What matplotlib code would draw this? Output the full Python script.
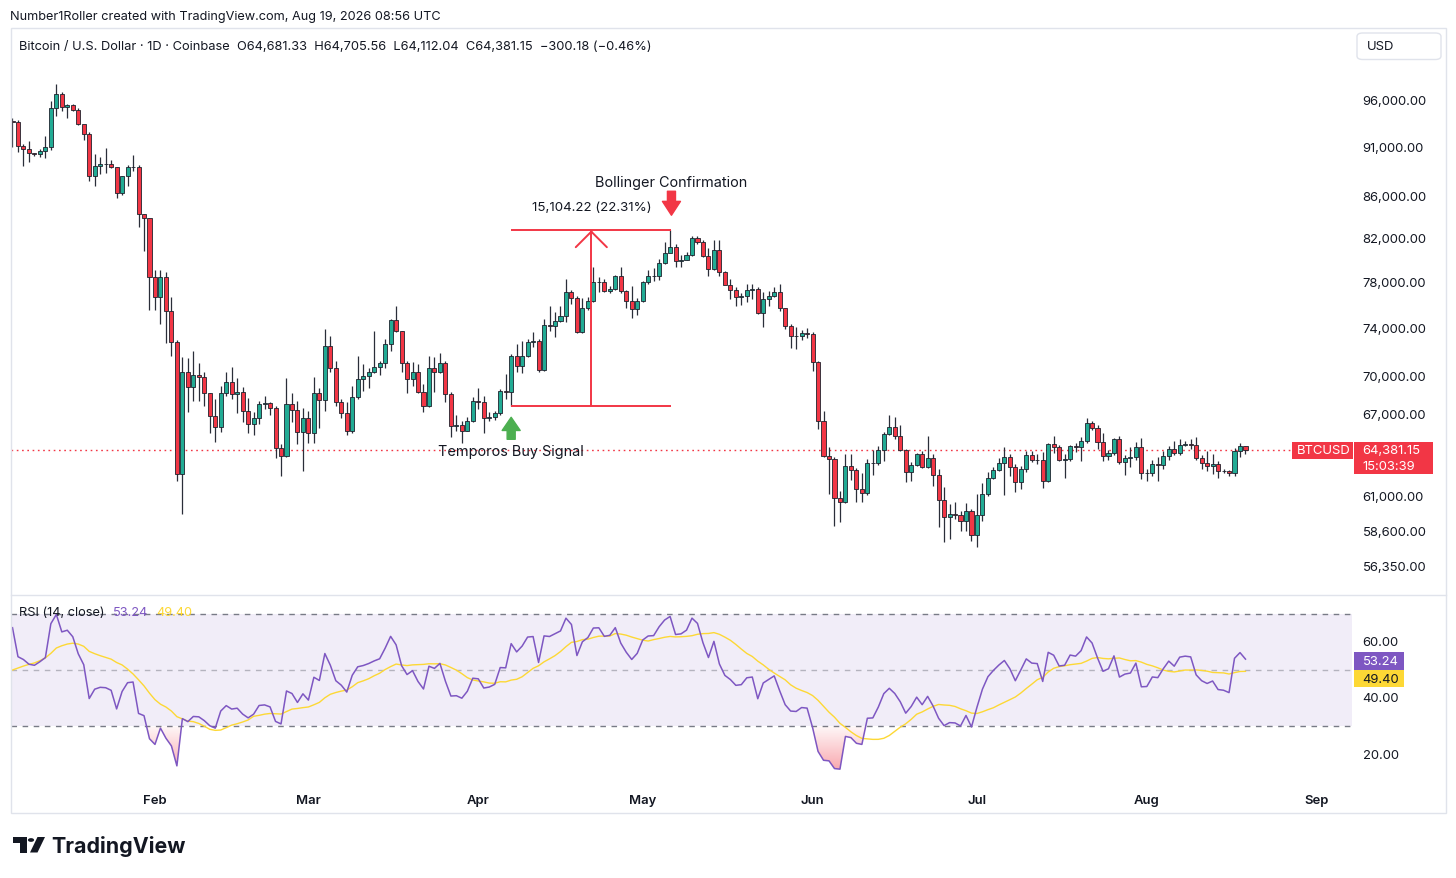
import datetime as dt
import numpy as np
import matplotlib
matplotlib.use("Agg")
import matplotlib.pyplot as plt
import matplotlib.dates as mdates
import matplotlib.transforms as mtransforms
from matplotlib.patches import Rectangle, FancyBboxPatch, Polygon, Circle
from matplotlib.path import Path
from matplotlib.colors import to_rgb

plt.rcParams['font.family'] = ['Inter', 'DejaVu Sans']

# ---- data (BTCUSD daily, Coinbase) ----
first_day = dt.date(2026, 1, 6)
first_open = 93800
closes = [
    93700, 91150, 90870, 90420, 90320, 90660, 91050, 95200, 96770, 95310,
    95560, 95020, 93510, 92440, 88140, 89150, 89350, 89300, 88980, 86410,
    88070, 88980, 89050, 84360, 83940, 78520, 76740, 78460, 75530, 72900,
    62660, 70380, 69180, 70130, 70000, 68710, 66930, 66090, 68710, 69580,
    68660, 68790, 67310, 66340, 66800, 67880, 67950, 67570, 64520, 63930,
    67880, 67410, 65720, 66800, 65660, 68710, 68190, 72560, 70730, 68010,
    67160, 65840, 68420, 69850, 70060, 70380, 70780, 71100, 72700, 74720,
    73760, 71130, 69850, 70380, 68840, 67700, 70730, 70430, 71130, 68660,
    66210, 66250, 65840, 66590, 68080, 68000, 66800, 66900, 67160, 68870,
    68840, 71730, 70930, 71680, 72900, 72970, 70570, 74300, 74240, 74660,
    75090, 77200, 76670, 73670, 75720, 76390, 78010, 78050, 77270, 77420,
    78550, 77210, 76360, 75670, 76360, 78010, 78550, 78600, 79760, 80720,
    81250, 79970, 80050, 80490, 82040, 81700, 80370, 79210, 80970, 78970,
    77800, 77360, 76740, 76800, 77360, 77420, 75290, 76540, 76830, 77120,
    75720, 74180, 73390, 73340, 73590, 73530, 71190, 66550, 63930, 63740,
    60940, 60700, 63210, 62940, 61590, 61310, 63430, 63460, 64380, 65590,
    66090, 65460, 64410, 62790, 63330, 64100, 63140, 63810, 62590, 60840,
    59630, 59850, 59800, 59360, 60030, 58430, 59800, 61240, 62350, 62940,
    63450, 63880, 63190, 62110, 63015, 64030, 63690, 63650, 62180, 64840,
    64600, 63690, 63760, 64680, 64600, 65080, 66400, 66010, 64990, 63970,
    64170, 65210, 63550, 63780, 63860, 64600, 62700, 62720, 63380, 63330,
    63930, 64470, 64150, 64770, 64840, 64800, 63790, 63430, 63260, 63380,
    62890, 62850, 62720, 64350, 64681.33, 64381.15,
]
highs = [
    94200, 93900, 91390, 91740, 90450, 90870, 92260, 96030, 97890, 97000,
    95670, 95700, 95200, 93440, 92620, 90350, 90010, 90960, 89730, 89000,
    88150, 89220, 90290, 89200, 84400, 84000, 79150, 79150, 78970, 76690,
    73030, 71600, 71520, 72150, 71160, 70380, 68710, 68265, 69260, 70380,
    70780, 69925, 69180, 68320, 67230, 68130, 68520, 68010, 67700, 64840,
    69900, 68710, 68080, 67570, 67310, 69970, 69130, 73955, 73390, 71340,
    68265, 68010, 69310, 71680, 71050, 70700, 73810, 71340, 73115, 74810,
    75900, 73800, 71340, 71190, 71050, 69450, 71680, 71600, 71930, 71340,
    68800, 67020, 66590, 66850, 68440, 69130, 68470, 67230, 67360, 69050,
    70250, 71860, 72700, 72970, 73115, 73670, 73115, 74810, 75960, 75380,
    75960, 78310, 77300, 76800, 76670, 76700, 79390, 78460, 78310, 77650,
    78660, 79440, 77300, 77720, 76670, 78100, 79080, 79270, 80120, 81700,
    82805.15, 81510, 80490, 80800, 82290, 82290, 81850, 81110, 81850, 81850,
    79000, 78310, 77560, 77060, 77900, 77860, 77560, 77120, 77270, 77560,
    77860, 75800, 74380, 74100, 73900, 74040, 73670, 71300, 67310, 64600,
    63860, 61470, 64100, 64100, 63070, 62730, 63740, 64380, 64680, 65720,
    67050, 66850, 66290, 64500, 63500, 64200, 64340, 65420, 64100, 63015,
    61710, 60540, 60650, 60030, 60590, 60195, 61240, 62000, 62790, 63140,
    63790, 64600, 64100, 63400, 63200, 64340, 64300, 64100, 64220, 64900,
    65410, 64800, 64100, 64800, 64900, 65330, 66800, 66590, 66300, 65640,
    64400, 65300, 65430, 64000, 64600, 64990, 65260, 63000, 63670, 63860,
    64300, 64720, 65080, 65210, 65100, 65200, 65330, 64000, 64340, 64100,
    63600, 63000, 62950, 64550, 64910, 64705.56,
]
lows = [
    91050, 90530, 89080, 89500, 90180, 90010, 89900, 90800, 94400, 94940,
    94110, 94900, 93440, 91840, 87630, 87070, 88300, 88370, 88900, 85910,
    86240, 87070, 88640, 83140, 80890, 75580, 75580, 74380, 72790, 71680,
    62140, 59850, 67230, 68130, 68130, 67750, 65640, 64990, 65720, 68500,
    68265, 67160, 66470, 65640, 65530, 66340, 67490, 67020, 63790, 62490,
    63860, 66470, 64840, 62890, 64940, 64940, 66040, 67310, 70380, 67750,
    66780, 65530, 65700, 68300, 68910, 69130, 70300, 70160, 70730, 72120,
    73670, 70380, 68740, 69260, 68710, 67230, 67620, 68790, 70300, 68010,
    65380, 65840, 64910, 65800, 66500, 67490, 65660, 66550, 66670, 67050,
    68265, 67700.93, 70380, 70330, 71600, 72450, 70430, 70500, 73810, 73260,
    74580, 74520, 76100, 73600, 73620, 75600, 76300, 77180, 77200, 77060,
    77300, 77100, 75720, 74860, 75150, 76300, 77900, 78150, 78200, 79700,
    80750, 79390, 79420, 80050, 80400, 81510, 80280, 78600, 79080, 78550,
    77860, 76540, 75900, 76020, 76290, 76540, 75240, 74100, 75900, 76700,
    75460, 73955, 72370, 72285, 73030, 73200, 70460, 65960, 63900, 61240,
    59020, 59300, 60600, 62250, 60650, 60650, 61200, 62610, 63300, 63620,
    65500, 65210, 64300, 62070, 62180, 63200, 63050, 63050, 61780, 58950,
    57950, 58165, 59510, 58720, 58720, 58060, 57660, 59400, 61100, 62300,
    62900, 61190, 62520, 61350, 61590, 62800, 63500, 63400, 61660, 62100,
    64200, 63600, 62370, 63600, 64220, 63620, 64900, 65900, 64470, 63620,
    63700, 64000, 63400, 62590, 63140, 63700, 62300, 62130, 62500, 62130,
    63000, 63700, 64000, 64000, 64700, 64500, 63700, 63015, 62890, 62660,
    62370, 62700, 62500, 62500, 63900, 64112.04,
]

# RSI(14) state at the first visible bar, and its 14-bar average over the
# first 13 visible bars (read off the indicator pane)
rsi_seed_gain, rsi_seed_loss = 678.0, 365.0
rsi_ma_head = [50.0, 50.7, 51.4, 52.0, 52.5, 53.3, 54.3, 55.9, 57.8, 58.6,
               59.2, 59.5, 59.2]
rsi_last, rsi_ma_last = 53.24, 49.40

price_ticks = [96000, 91000, 86000, 82000, 78000, 74000, 70000, 67000,
               61000, 58600, 56350]
rsi_ticks = [60, 40, 20]
month_names = ['Feb', 'Mar', 'Apr', 'May', 'Jun', 'Jul', 'Aug', 'Sep']

# measurement tool: from the Apr 7 low to the May 6 high
buy_day = dt.date(2026, 4, 7)
measure_end = dt.date(2026, 5, 6)
measure_low, measure_high = 67700.93, 82805.15

UP, DOWN = '#22ab94', '#f23645'
W, H = 1456, 879

# ---- derived series ----
dates = [first_day + dt.timedelta(days=i) for i in range(len(closes))]
x = mdates.date2num(dates)
c = np.array(closes, float)
o = np.concatenate([[first_open], c[:-1]])
hi = np.array(highs, float)
lo = np.array(lows, float)

gain, loss = rsi_seed_gain, rsi_seed_loss
rsi = [100 * gain / (gain + loss)]
for d in np.diff(c):
    gain = (gain * 13 + max(d, 0)) / 14
    loss = (loss * 13 + max(-d, 0)) / 14
    rsi.append(100 * gain / (gain + loss))
rsi = np.array(rsi)
rsi_ma = np.array(rsi_ma_head + [rsi[i - 13:i + 1].mean()
                                 for i in range(13, len(rsi))])

# ---- figure ----
fig = plt.figure(figsize=(W / 100, H / 100), dpi=100)
PL, PR = 10.7, 1352.5
MT, MB = 29, 595
RT, RB = 597, 789
ax = fig.add_axes([PL / W, 1 - MB / H, (PR - PL) / W, (MB - MT) / H])
rax = fig.add_axes([PL / W, 1 - RB / H, (PR - PL) / W, (RB - RT) / H])
base = mdates.date2num(dt.datetime(2026, 1, 1))
xlim = (base + 4.672, base + 249.53)
for a in (ax, rax):
    a.set_axis_off()
    a.set_xlim(*xlim)
ax.set_yscale('log')
ax.set_ylim(54617, 104364)
rax.set_ylim(8.16, 76.24)

# candles
up = c >= o
ax.vlines(x, lo, hi, color='#2a2e39', lw=0.9, zorder=2)
ax.bar(x, np.abs(c - o), width=0.74, bottom=np.minimum(o, c),
       color=np.where(up, UP, DOWN), edgecolor='#1e222d', linewidth=0.6, zorder=3)

# last price line
ax.axhline(c[-1], xmax=(1291.7 - PL) / (PR - PL), color=DOWN, lw=1,
           ls=(0, (1.2, 2.6)), zorder=1)

# measurement tool
xb = mdates.date2num(buy_day)
xe = mdates.date2num(measure_end) + 0.25
xm = (xb + xe) / 2
ax.hlines([measure_low, measure_high], xb, xe, color=DOWN, lw=1.4, zorder=4)
ax.vlines(xm, measure_low, measure_high, color=DOWN, lw=1.4, zorder=4)
ax.annotate('', xy=(xm, measure_high), xytext=(0, -1), textcoords='offset pixels',
            arrowprops=dict(arrowstyle='->,head_length=0.8,head_width=0.8',
                            color=DOWN, lw=1.4, mutation_scale=14, shrinkA=0, shrinkB=0))
diff = measure_high - measure_low
ax.annotate(f'{diff:,.2f} ({diff / measure_low * 100:.2f}%)', xy=(xm, measure_high),
            xytext=(0, 23), textcoords='offset pixels', ha='center', va='center',
            fontsize=9.6, color='#131722')

# signal arrows and labels
tip_up = mtransforms.offset_copy(ax.transData, fig=fig, x=0, y=-11, units='dots')
ax.annotate('', xy=(xb, measure_low), xycoords=tip_up, xytext=(0, -22),
            textcoords='offset pixels',
            arrowprops=dict(arrowstyle='simple,head_length=0.95,head_width=1.3,tail_width=0.58',
                            mutation_scale=10, color='#4caf50', shrinkA=0, shrinkB=0))
ax.annotate('Temporos Buy Signal', xy=(xb, measure_low), xytext=(0, -44.5),
            textcoords='offset pixels', ha='center', va='center', fontsize=10.4,
            color='#131722', zorder=5)
tip_dn = mtransforms.offset_copy(ax.transData, fig=fig, x=0, y=15, units='dots')
ax.annotate('', xy=(xe, measure_high), xycoords=tip_dn, xytext=(0, 24),
            textcoords='offset pixels',
            arrowprops=dict(arrowstyle='simple,head_length=1.0,head_width=1.3,tail_width=0.58',
                            mutation_scale=10, color=DOWN, shrinkA=0, shrinkB=0))
ax.annotate('Bollinger Confirmation', xy=(xe, measure_high), xytext=(0, 48),
            textcoords='offset pixels', ha='center', va='center', fontsize=10.4,
            color='#131722')

# ---- RSI pane ----
rax.axhspan(30, 70, color='#7e57c2', alpha=0.1, lw=0, zorder=0)
rax.axhline(70, color='#787b86', lw=1, ls=(0, (4, 4)), zorder=1)
rax.axhline(30, color='#787b86', lw=1, ls=(0, (4, 4)), zorder=1)
rax.axhline(50, color='#787b86', lw=1, ls=(0, (4, 4)), alpha=0.5, zorder=1)


def gradient_zone(axr, xs, ys, level, below, color):
    mask = ys < level if below else ys > level
    if not mask.any():
        return
    coll = axr.fill_between(xs, ys, level, where=mask, interpolate=True,
                            facecolor='none', edgecolor='none')
    paths = [p for p in coll.get_paths() if len(p.vertices)]
    clip = Path.make_compound_path(*paths)
    n = 120
    y0, y1 = axr.get_ylim()
    if below:
        ext = (y0, level)
        alpha = np.linspace(0.6, 0.04, n)
    else:
        ext = (level, y1)
        alpha = np.linspace(0.04, 0.6, n)
    img = np.zeros((n, 1, 4))
    img[..., :3] = to_rgb(color)
    img[:, 0, 3] = alpha
    im = axr.imshow(img, extent=[xs[0], xs[-1], ext[0], ext[1]], origin='lower',
                    aspect='auto', zorder=1.5, interpolation='bilinear')
    im.set_clip_path(clip, transform=axr.transData)


gradient_zone(rax, x, rsi, 30, True, '#f23645')
gradient_zone(rax, x, rsi, 70, False, '#089981')
rax.set_xlim(*xlim)
rax.set_ylim(8.16, 76.24)
rax.plot(x, rsi_ma, color='#fdd835', lw=1.0, zorder=3)
rax.plot(x, rsi, color='#7e57c2', lw=1.1, zorder=4)


# ---- frame, axes text ----
def fx(px):
    return px / W


def fy(py):
    return 1 - py / H


fig.add_artist(Rectangle((fx(PL), fy(814)), fx(1446) - fx(PL), fy(29) - fy(814),
                         transform=fig.transFigure, fill=False, ec='#e0e3eb', lw=1))
fig.add_artist(plt.Line2D([fx(PL), fx(1446)], [fy(595.5), fy(595.5)],
                          transform=fig.transFigure, color='#e0e3eb', lw=1))

ptrans = mtransforms.blended_transform_factory(fig.transFigure, ax.transData)
for p in price_ticks:
    fig.text(fx(1362.5), p, f'{p:,.2f}', transform=ptrans, ha='left', va='center',
             fontsize=9.4, color='#131722')
rtrans = mtransforms.blended_transform_factory(fig.transFigure, rax.transData)
for r in rsi_ticks:
    fig.text(fx(1362.5), r, f'{r:.2f}', transform=rtrans, ha='left', va='center',
             fontsize=9.4, color='#131722')

mtrans = mtransforms.blended_transform_factory(rax.transData, fig.transFigure)
for i, name in enumerate(month_names):
    xm_ = mdates.date2num(dt.date(2026, 2 + i, 1))
    fig.text(xm_, fy(800.7), name, transform=mtrans, ha='center', va='center',
             fontsize=9.4, fontweight='semibold', color='#131722')


def ypix(axis, val):
    return H - axis.transData.transform((axis.get_xlim()[0], val))[1]


def tag(x0, x1, ytop, ybot, color, lines, tcolor='white', tx=None):
    fig.add_artist(Rectangle((fx(x0), fy(ybot)), fx(x1) - fx(x0), fy(ytop) - fy(ybot),
                             transform=fig.transFigure, color=color, lw=0))
    step = (ybot - ytop) / len(lines)
    for k, t in enumerate(lines):
        fig.text(fx(tx if tx else x0 + 8.5), fy(ytop + step * (k + 0.5)), t,
                 ha='left', va='center', fontsize=9.4, color=tcolor)


py = ypix(ax, c[-1])
tag(1291.7, 1352.7, py - 8.7, py + 9, DOWN, ['BTCUSD'], tx=1297)
tag(1354, 1432.7, py - 8.7, py + 24, DOWN, [f'{c[-1]:,.2f}', '15:03:39'])

r1 = ypix(rax, rsi_last)
tag(1354, 1404, r1 - 8.7, r1 + 8.7, '#7e57c2', [f'{rsi_last:.2f}'])
r2 = max(ypix(rax, rsi_ma_last), r1 + 17.4 + 0.5)
tag(1354, 1404, r2 - 8.7, r2 + 8.7, '#fdd835', [f'{rsi_ma_last:.2f}'], tcolor='#131722')

# legends
fig.text(fx(10), fy(17.3), 'Number1Roller created with TradingView.com, Aug 19, 2026 08:56 UTC',
         ha='left', va='center', fontsize=9.17, color='#131722')
fig.text(fx(18.8), fy(46.5),
         'Bitcoin / U.S. Dollar · 1D · Coinbase  O64,681.33  H64,705.56  L64,112.04  C64,381.15  '
         '\u2212300.18 (\u22120.46%)',
         ha='left', va='center', fontsize=9.25, color='#131722')
t1 = fig.text(fx(19.3), fy(612.5), 'RSI (14, close)', ha='left', va='center',
              fontsize=9.2, color='#131722')
t2 = fig.text(0, 0, f'{rsi_last:.2f}', fontsize=9.2, color='#7e57c2', ha='left', va='center')
t3 = fig.text(0, 0, f'{rsi_ma_last:.2f}', fontsize=9.2, color='#fdd835', ha='left', va='center')
fig.canvas.draw()
bb1 = t1.get_window_extent()
t2.set_position((fx(bb1.x1 + 8), fy(612.5)))
fig.canvas.draw()
bb2 = t2.get_window_extent()
t3.set_position((fx(bb2.x1 + 8), fy(612.5)))

# USD button
fig.add_artist(FancyBboxPatch((fx(1357), fy(60.5)), fx(1441) - fx(1357), fy(34) - fy(60.5),
                              boxstyle='round,pad=0,rounding_size=0.004',
                              transform=fig.transFigure, fc='white', ec='#e0e3eb', lw=1))
fig.text(fx(1367), fy(47.5), 'USD', ha='left', va='center', fontsize=9.4, color='#131722')

# TradingView logo
ink = '#131722'
fig.add_artist(Polygon([(fx(13), fy(838)), (fx(26.5), fy(838)), (fx(26.5), fy(853.5)),
                        (fx(19.5), fy(853.5)), (fx(19.5), fy(843.5)), (fx(13), fy(843.5))],
                       closed=True, transform=fig.transFigure, color=ink, lw=0))
fig.add_artist(Circle((fx(31), fy(841)), 3.1 / W, transform=fig.transFigure, color=ink, lw=0))
fig.add_artist(Polygon([(fx(37.5), fy(838)), (fx(45), fy(838)), (fx(37.5), fy(853.5)),
                        (fx(30), fy(853.5))],
                       closed=True, transform=fig.transFigure, color=ink, lw=0))
fig.text(fx(51.5), fy(846.5), 'TradingView', ha='left', va='center', fontsize=15.4,
         fontweight='bold', color=ink)

fig.savefig('out.png', dpi=100, facecolor='white')
